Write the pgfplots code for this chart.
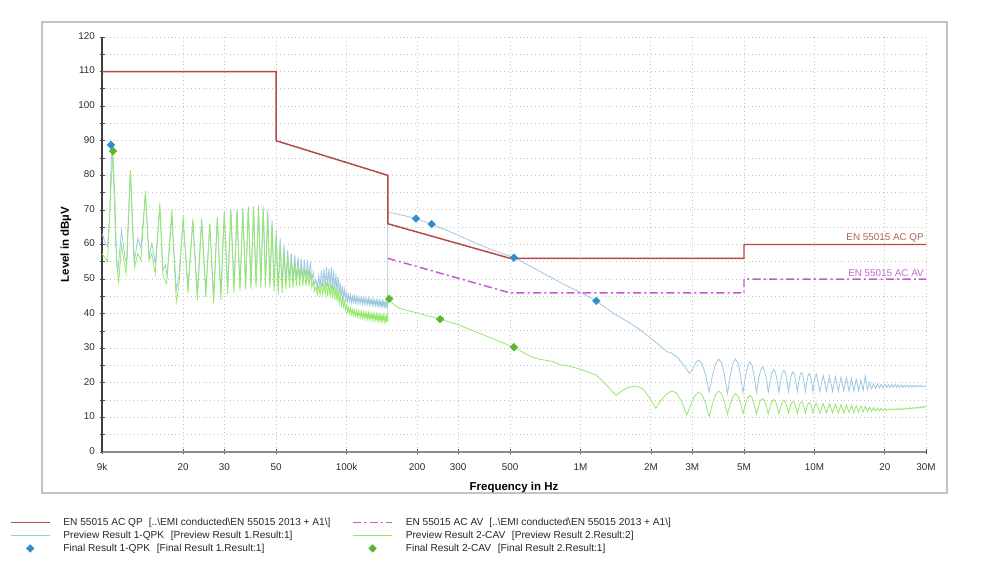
\documentclass[border=0pt]{standalone}
\usepackage{fontspec}
\setmainfont{Liberation Sans}
\usepackage{pgfplots}
\pgfplotsset{compat=1.18}

\definecolor{qpred}{RGB}{181,72,66}
\definecolor{avmag}{RGB}{196,88,206}
\definecolor{qplabel}{RGB}{172,96,92}
\definecolor{avlabel}{RGB}{190,110,200}
\definecolor{prevblue}{RGB}{158,199,224}
\definecolor{prevgreen}{RGB}{148,232,106}
\definecolor{finblue}{RGB}{52,140,204}
\definecolor{fingreen}{RGB}{92,182,52}
\definecolor{gridgray}{RGB}{195,195,195}
\definecolor{framegray}{RGB}{195,195,195}
\definecolor{ticktext}{RGB}{45,45,45}

\begin{document}
\begin{tikzpicture}
% 1 px of the 988x563 reference = 0.75pt
\path[use as bounding box] (0pt,0pt) rectangle (741pt,422.25pt);
\draw[framegray, line width=0.9pt] (31.5pt,52.5pt) rectangle (710.25pt,405.75pt);

\begin{axis}[
  at={(76.5pt,83.25pt)}, anchor=south west,
  scale only axis, width=618pt, height=311.25pt,
  xmode=log, xmin=9000, xmax=30000000,
  ymin=0, ymax=120,
  axis x line*=bottom, axis y line*=left,
  x axis line style={line width=1.5pt, color=gray!90},
  y axis line style={line width=0.8pt, color=black!75},
  xtick={9000,20000,30000,50000,100000,200000,300000,500000,1000000,2000000,3000000,5000000,10000000,20000000,30000000},
  xticklabels={9k,20,30,50,100k,200,300,500,1M,2M,3M,5M,10M,20,30M},
  minor xtick={},
  ytick={0,10,...,120},
  minor ytick={5,15,...,115},
  /pgf/number format/assume math mode=true,
  typeset ticklabels with strut,
  tick align=center,
  major tick length=3.75pt, minor tick length=3.75pt,
  tick style={color=black!70, line width=0.6pt},
  xmajorgrids, ymajorgrids, yminorgrids,
  major grid style={gridgray, line width=0.7pt, dash pattern=on 0.7pt off 2.2pt},
  minor grid style={gridgray, line width=0.7pt, dash pattern=on 0.7pt off 2.2pt},
  ticklabel style={font=\fontsize{7.4}{9}\selectfont, text=ticktext},
  xticklabel style={yshift=-2pt},
  xlabel={Frequency in Hz},
  ylabel={Level in dBµV},
  xlabel style={at={(axis description cs:0.5,-0.085)}, anchor=center, font=\fontsize{8.6}{10}\selectfont\bfseries},
  ylabel style={at={(axis description cs:-0.0437,0.5)}, anchor=center, font=\fontsize{8.6}{10}\selectfont\bfseries},
  legend columns=2,
  legend cell align=left,
  legend style={at={(-0.11165,-0.1568)}, anchor=north west, draw=none, fill=none,
    inner sep=0pt, outer sep=0pt, row sep=1.75pt,
    font=\fontsize{7.6}{9}\selectfont, text=black!85,
    nodes={inner sep=0pt, text height=6pt, text depth=2pt},
    /tikz/every odd column/.append style={column sep=9.75pt}},
  legend image code/.code={\draw[#1, mark repeat=2, mark phase=2] plot coordinates {(0pt,0pt) (14.6pt,0pt) (29.2pt,0pt)};},
]

% legend
\addlegendimage{qpred, line width=1.1pt}
\addlegendentry{\makebox[216.75pt][l]{EN 55015 AC QP\hspace{4.5pt}[..\textbackslash EMI conducted\textbackslash EN 55015 2013 + A1\textbackslash]}}
\addlegendimage{avmag, line width=1.1pt, dash pattern=on 6pt off 2.5pt on 1.5pt off 2.5pt}
\addlegendentry{EN 55015 AC AV\hspace{4.5pt}[..\textbackslash EMI conducted\textbackslash EN 55015 2013 + A1\textbackslash]}
\addlegendimage{prevblue, line width=0.8pt}
\addlegendentry{\makebox[216.75pt][l]{Preview Result 1-QPK\hspace{5pt}[Preview Result 1.Result:1]}}
\addlegendimage{prevgreen, line width=0.8pt}
\addlegendentry{Preview Result 2-CAV\hspace{5pt}[Preview Result 2.Result:2]}
\addlegendimage{only marks, mark=square*, mark size=2pt, mark options={rotate=45}, draw=finblue, fill=finblue}
\addlegendentry{\makebox[216.75pt][l]{Final Result 1-QPK\hspace{5pt}[Final Result 1.Result:1]}}
\addlegendimage{only marks, mark=square*, mark size=2pt, mark options={rotate=45}, draw=fingreen, fill=fingreen}
\addlegendentry{Final Result 2-CAV\hspace{5pt}[Final Result 2.Result:1]}

% Preview Result 1-QPK
\addplot[prevblue, line width=0.6pt, forget plot] coordinates {
(9000,63.2) (9300,60.5) (9500,59.4) (9700,68) (9900,88.7) (10100,78) (10300,60)
(10500,51.6) (10900,64) (11300,56) (11500,54.5) (11900,81.5) (12300,56) (12400,55.4)
(12800,61.7) (13200,59) (13800,74.5) (14300,56.4) (14700,60.3) (15200,54.5)
(15900,70.6) (16400,52.6) (16800,54) (17100,51) (17900,68) (18700,46.8) (19200,51)
(20000,67) (21000,47.7) (22000,66.5) (23000,46) (24000,67.5) (25000,46.5)
(26000,66) (27000,45) (28000,67.5) (29000,46) (30000,69.8) (31000,47)
(32000,70.3) (33000,48) (34000,70) (35000,47.5) (36000,70.5) (37000,48)
(38000,71) (39000,48.5) (40000,71) (41000,49) (42000,71.4) (43000,49)
(44000,71.2) (45000,49) (46000,70) (47000,48.5) (48000,67) (49000,48)
(50000,64.2) (51000,47) (52000,62) (53000,48) (54000,60) (55000,49)
(56000,58.4) (57000,49.5) (58000,57.5) (59000,49.7) (60000,57) (61000,50)
(62000,56.5) (63000,50) (64000,56) (65000,50) (66000,55.5) (67000,50)
(68000,55.5) (69000,50) (70000,55) (71000,49.5) (72000,52) (73000,48.5)
(74000,49.7) (75000,47.5) (76000,51) (77000,47.5) (78000,52.5) (79000,47.8)
(80000,53) (81000,47.8) (82000,53.6) (83000,47.8) (84000,53) (85000,47.5)
(86000,53.5) (87000,47) (88000,52.5) (89000,46.5) (90000,51.5) (91000,46)
(92000,50.7) (93000,45.5) (94000,49) (95000,45) (96000,48) (97000,44.5)
(98000,47) (99000,44) (100000,46) (101000,43.5) (102000,45.5) (103000,43.5)
(104000,45.4) (105000,43.3) (106000,45.0) (107000,43.2) (108000,45.2) (109000,43.2)
(110000,44.8) (111000,43.0) (112000,44.7) (113000,43.0) (114000,44.8) (115000,43.1)
(116000,44.5) (117000,42.9) (118000,44.6) (119000,42.9) (120000,44.4) (121000,42.8)
(122000,44.3) (123000,42.8) (124000,44.4) (125000,42.7) (126000,44.1) (127000,42.6)
(128000,44.0) (129000,42.6) (130000,44.1) (131000,42.5) (132000,43.9) (133000,42.5)
(134000,43.8) (135000,42.4) (136000,43.9) (137000,42.3) (138000,43.7) (139000,42.3)
(140000,43.6) (141000,42.2) (142000,43.6) (143000,42.1) (144000,43.5) (145000,42.1)
(146000,43.4) (147000,42.0) (148000,43.3) (149000,41.9) (150000,42.8)
(150000,69.3) (160000,69) (175000,68.4) (198000,67.5) (231000,65.9) (270000,64)
(320000,61.8) (380000,59.6) (440000,57.9) (519000,56.2) (600000,54) (700000,51.5)
(800000,49.4) (900000,47.6) (1010000,46) (1168000,43.7) (1380000,40.1)
(1600000,37.6) (1800000,35.3) (2050000,32.3) (2340000,29) (2450000,28.6)
(2600000,27.3) (2800000,24.6) (2920000,22.7) (3050000,24.5) (3120000,26.0)
(3200000,26.6) (3317000,25.4) (3433000,22.0) (3550000,17.4) (3667000,22.15) (3783000,25.6)
(3900000,26.9) (4017000,25.6) (4133000,21.9) (4250000,16.9) (4367000,21.9) (4483000,25.6)
(4600000,26.9) (4717000,25.6) (4833000,22.05) (4950000,17.2) (5067000,21.65) (5183000,24.9)
(5300000,26.1) (5417000,24.9) (5533000,21.7) (5650000,17.3) (5767000,20.95) (5883000,23.6)
(6000000,24.6) (6117000,23.6) (6233000,20.95) (6350000,17.3) (6467000,20.6) (6583000,23.0)
(6700000,23.9) (6817000,23.0) (6933000,20.6) (7050000,17.3) (7167000,20.5) (7283000,22.8)
(7400000,23.7) (7517000,22.85) (7633000,20.55) (7750000,17.4) (7867000,20.3) (7983000,22.4)
(8100000,23.2) (8217000,22.4) (8333000,20.3) (8450000,17.4) (8567000,20.2) (8683000,22.25)
(8800000,23.0) (8917000,22.25) (9033000,20.2) (9150000,17.4) (9267000,20.05) (9383000,22.0)
(9500000,22.7) (9617000,22.0) (9733000,20.1) (9850000,17.5) (9967000,20.0) (10083000,21.8)
(10200000,22.5) (10550000,17.5) (10900000,22.2) (11250000,17.5) (11600000,22.0)
(11950000,17.5) (12300000,21.8) (12650000,17.6) (13000000,21.7) (13350000,17.6)
(13700000,21.5) (14050000,17.6) (14400000,21.2) (14750000,17.6) (15100000,21.0)
(15450000,17.6) (15800000,20.8) (16150000,17.8) (16500000,22.0) (16850000,18.0)
(17200000,20.0) (17550000,18.3) (17900000,19.8) (18250000,18.4) (18600000,19.7)
(18950000,18.5) (19300000,19.6) (19650000,18.5) (20000000,19.6) (20350000,18.6)
(20700000,19.5) (21050000,18.6) (21400000,19.5) (21750000,18.7) (22100000,19.5)
(22450000,18.7) (22800000,19.4) (23150000,18.7) (23500000,19.4) (23850000,18.7)
(24200000,19.3) (24550000,18.8) (24900000,19.3) (25250000,18.8) (25600000,19.3)
(25950000,18.8) (26300000,19.2) (26650000,18.8) (27000000,19.3) (27350000,18.8)
(27700000,19.2) (28050000,18.9) (28400000,19.2) (28750000,18.9) (29100000,19.1)
(29450000,18.9) (29800000,19.1) (30000000,18.9)
};

% Preview Result 2-CAV
\addplot[prevgreen, line width=0.6pt, forget plot] coordinates {
(9000,57.4) (9300,56) (9500,55) (9700,68) (10000,87) (10200,75) (10400,55)
(10600,48.7) (10900,59.8) (11400,51.6) (11900,81.5) (12400,53.5) (12800,57.4)
(13200,55.4) (13800,75.4) (14300,55.4) (14700,57.4) (15200,51.6) (15900,72.1)
(16400,50.7) (17000,48.7) (17900,70) (18700,43.4) (19200,48)
(20000,68.3) (21000,45.8) (22000,67.5) (23000,43.9) (24000,66.8) (25000,44.8)
(26000,66) (27000,43) (28000,67.9) (29000,44) (30000,69.5) (31000,45.8)
(32000,69.5) (33000,46) (34000,70) (35000,46.5) (36000,70) (37000,47)
(38000,70.5) (39000,47) (40000,70.5) (41000,47.5) (42000,70.5) (43000,47.5)
(44000,70) (45000,48) (46000,68.5) (47000,47.5) (48000,65.5) (49000,46.5)
(50000,62.3) (51000,45.5) (52000,60) (53000,46) (54000,58) (55000,47)
(56000,56.5) (57000,47.5) (58000,55.5) (59000,47.5) (60000,54.5) (61000,48)
(62000,54) (63000,48) (64000,53.5) (65000,48) (66000,53) (67000,48)
(68000,52.2) (69000,47.8) (70000,52) (71000,47.5) (72000,49.5) (73000,46.5)
(74000,47.8) (75000,45.5) (76000,48) (77000,45.5) (78000,48.5) (79000,45.5)
(80000,48.8) (81000,45.5) (82000,49) (83000,45) (84000,49) (85000,45)
(86000,48.5) (87000,44.5) (88000,48) (89000,44) (90000,47.5) (91000,43.5)
(92000,46.9) (93000,43) (94000,45.5) (95000,42.5) (96000,44.5) (97000,42)
(98000,43.5) (99000,41) (100000,42.5) (101000,40.5) (102000,42) (103000,40)
(104000,41.5) (105000,39.8) (106000,41.2) (107000,39.5) (108000,41) (109000,39.3)
(110000,40.8) (111000,39.2) (112000,40.8) (113000,39) (114000,40.6) (115000,38.9)
(116000,40.5) (117000,38.8) (118000,40.4) (119000,38.7) (120000,40.3) (121000,38.6)
(122000,40.2) (123000,38.5) (124000,40.2) (125000,38.4) (126000,40) (127000,38.4)
(128000,39.9) (129000,38.3) (130000,39.9) (131000,38.2) (132000,39.8) (133000,38.2)
(134000,39.7) (135000,38.1) (136000,39.7) (137000,38.0) (138000,39.6) (139000,38.0)
(140000,39.5) (141000,37.9) (142000,39.5) (143000,37.9) (144000,39.4) (145000,37.8)
(146000,39.3) (147000,37.8) (148000,39.3) (149000,37.7) (150000,38)
(150000,44.3) (160000,42.5) (169000,41.5) (200000,40.2) (251000,38.4) (300000,36.8)
(350000,35) (420000,32.8) (519000,30.3) (580000,28.5) (620000,27.5) (671000,26.8)
(700000,26.6) (760000,26.2) (820000,25.2) (900000,24.8) (1000000,23.9)
(1170000,22.2) (1250000,20.3) (1340000,18.2) (1420000,16.4) (1500000,17.6)
(1600000,18.7) (1730000,19.1) (1850000,18.2) (1970000,15.8) (2100000,12.6)
(2200000,14.8) (2320000,16.6) (2450000,17.6) (2560000,17.2) (2680000,15.1)
(2850000,10.7) (2950000,13.5) (3070000,16.1)
(3200000,17.4) (3317000,16.45) (3433000,13.85) (3550000,10.3) (3667000,13.95) (3783000,16.6)
(3900000,17.6) (4017000,16.7) (4133000,14.25) (4250000,10.9) (4367000,13.9) (4483000,16.1)
(4600000,16.9) (4717000,16.1) (4833000,14.0) (4950000,11.1) (5067000,13.75) (5183000,15.7)
(5300000,16.4) (5417000,15.7) (5533000,13.7) (5650000,11.0) (5767000,13.25) (5883000,14.9)
(6000000,15.5) (6117000,14.9) (6233000,13.25) (6350000,11.0) (6467000,13.1) (6583000,14.65)
(6700000,15.2) (6817000,14.65) (6933000,13.1) (7050000,11.0) (7167000,12.95) (7283000,14.4)
(7400000,14.9) (7517000,14.4) (7633000,13.0) (7750000,11.1) (7867000,12.9) (7983000,14.2)
(8100000,14.7) (8217000,14.2) (8333000,12.9) (8450000,11.1) (8567000,12.8) (8683000,14.05)
(8800000,14.5) (8917000,14.05) (9033000,12.85) (9150000,11.2) (9267000,12.75) (9383000,13.9)
(9500000,14.3) (9617000,13.9) (9733000,12.75) (9850000,11.2) (9967000,12.65) (10083000,13.7)
(10200000,14.1) (10550000,11.2) (10900000,14.0) (11250000,11.3) (11600000,13.9)
(11950000,11.3) (12300000,13.8) (12650000,11.3) (13000000,13.7) (13350000,11.3)
(13700000,13.6) (14050000,11.4) (14400000,13.5) (14750000,11.4) (15100000,13.4)
(15450000,11.5) (15800000,13.3) (16150000,11.6) (16500000,13.2) (16850000,11.7)
(17200000,12.9) (17550000,11.8) (17900000,12.8) (18250000,11.9) (18600000,12.7)
(18950000,11.9) (19300000,12.6) (19650000,12.0) (20000000,12.6) (20350000,12.0)
(20700000,12.5) (21050000,12.1) (21400000,12.5) (21750000,12.1) (22100000,12.5)
(22450000,12.2) (22800000,12.6) (23150000,12.2) (23500000,12.6) (23850000,12.3)
(24200000,12.6) (24550000,12.3) (24900000,12.7) (25250000,12.4) (25600000,12.8)
(25950000,12.5) (26300000,12.8) (26650000,12.6) (27000000,12.9) (27350000,12.6)
(27700000,13.0) (28050000,12.7) (28400000,13.1) (28750000,12.8) (29100000,13.1)
(29450000,12.9) (29800000,13.2) (30000000,13.0)
};

% EN 55015 AC QP limit
\addplot[qpred, line width=1.1pt, forget plot] coordinates {
(9000,110) (50000,110) (50000,90) (150000,80) (150000,66) (500000,56)
(5000000,56) (5000000,60) (30000000,60)
};
% EN 55015 AC AV limit
\addplot[avmag, line width=1.1pt, dash pattern=on 6pt off 2.5pt on 1.5pt off 2.5pt, forget plot] coordinates {
(150000,56) (500000,46) (5000000,46) (5000000,50) (30000000,50)
};

% Final Result 1-QPK
\addplot[only marks, mark=square*, mark size=2pt, mark options={rotate=45}, draw=finblue, fill=finblue, forget plot] coordinates {
(9830,88.8) (198000,67.5) (231000,65.9) (519000,56.2) (1168000,43.7)
};
% Final Result 2-CAV
\addplot[only marks, mark=square*, mark size=2pt, mark options={rotate=45}, draw=fingreen, fill=fingreen, forget plot] coordinates {
(10030,87.0) (152000,44.3) (251000,38.4) (519000,30.3)
};

\node[anchor=south east, inner sep=1.5pt, text=qplabel, font=\fontsize{7.4}{9}\selectfont] at (axis cs:30000000,60) {EN 55015 AC QP};
\node[anchor=south east, inner sep=1.5pt, text=avlabel, font=\fontsize{7.4}{9}\selectfont] at (axis cs:30000000,50) {EN 55015 AC AV};
\end{axis}
\end{tikzpicture}
\end{document}
